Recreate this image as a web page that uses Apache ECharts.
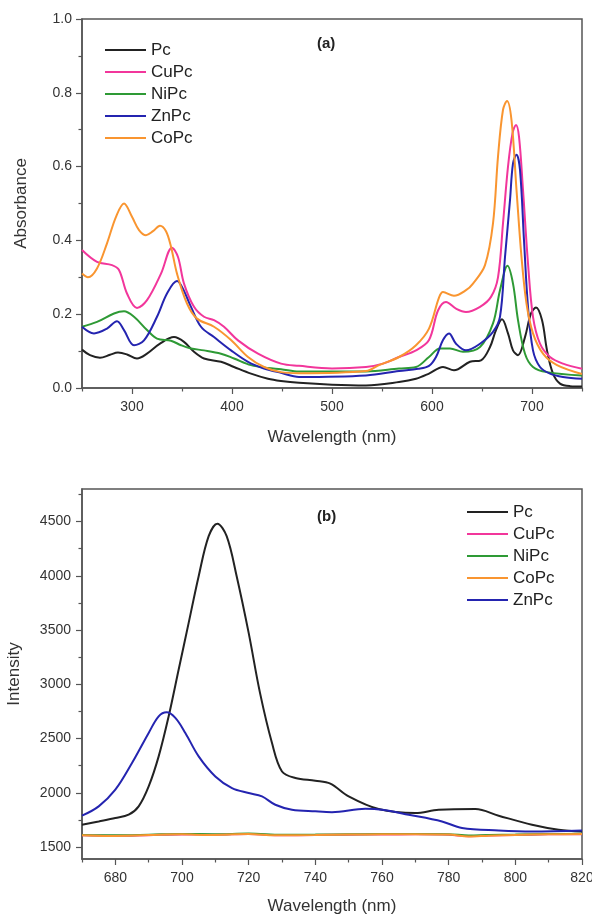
<!DOCTYPE html>
<html>
<head>
<meta charset="utf-8">
<script src="https://cdn.jsdelivr.net/npm/echarts@6/dist/echarts.min.js"></script>
<style>html,body{margin:0;padding:0;background:#fff}#c{width:592px;height:916px}</style>
</head>
<body>
<div id="c"></div>
<script>
// ---------- Panel (a): UV-Vis absorbance ----------
const absNames = ['Pc', 'CuPc', 'NiPc', 'ZnPc', 'CoPc'];
const absPc = [[250,0.104],[258,0.089],[268,0.082],[278,0.090],[286,0.096],[295,0.091],[305,0.080],[315,0.093],[328,0.120],[342,0.138],[352,0.125],[362,0.098],[372,0.080],[389,0.071],[402,0.057],[419,0.039],[436,0.025],[449,0.019],[467,0.014],[500,0.009],[534,0.007],[567,0.016],[584,0.025],[597,0.039],[611,0.057],[622,0.048],[638,0.071],[649,0.075],[658,0.111],[664,0.157],[670,0.186],[676,0.148],[681,0.102],[686,0.089],[693,0.138],[699,0.202],[704,0.218],[710,0.184],[715,0.102],[721,0.039],[728,0.012],[738,0.005],[750,0.004]];
const absCuPc = [[250,0.374],[265,0.342],[280,0.333],[287,0.320],[295,0.256],[305,0.217],[315,0.238],[329,0.310],[340,0.380],[346,0.355],[352,0.283],[362,0.220],[372,0.193],[382,0.184],[392,0.166],[406,0.129],[426,0.093],[449,0.066],[467,0.060],[500,0.053],[534,0.057],[551,0.066],[567,0.084],[584,0.102],[597,0.130],[606,0.210],[614,0.233],[624,0.215],[634,0.206],[648,0.220],[659,0.247],[666,0.300],[671,0.446],[676,0.600],[680.5,0.690],[684,0.713],[687,0.681],[691,0.537],[696,0.338],[701,0.193],[708,0.120],[718,0.084],[731,0.066],[750,0.052]];
const absNiPc = [[250,0.166],[265,0.179],[282,0.202],[292,0.208],[302,0.193],[315,0.157],[325,0.134],[339,0.128],[349,0.116],[359,0.107],[372,0.102],[389,0.093],[402,0.080],[419,0.062],[436,0.054],[449,0.051],[467,0.045],[534,0.045],[567,0.053],[584,0.057],[597,0.084],[608,0.107],[618,0.107],[631,0.098],[648,0.111],[661,0.175],[668,0.265],[675.5,0.331],[681,0.283],[686,0.184],[693,0.093],[701,0.057],[715,0.043],[750,0.034]];
const absZnPc = [[250,0.166],[262,0.148],[275,0.161],[285,0.181],[292,0.157],[302,0.116],[312,0.129],[325,0.193],[335,0.256],[345,0.290],[350,0.274],[359,0.220],[369,0.166],[382,0.138],[399,0.102],[416,0.071],[432,0.053],[449,0.041],[467,0.030],[534,0.034],[567,0.046],[586,0.052],[597,0.060],[604,0.084],[611,0.130],[617,0.148],[624,0.120],[634,0.102],[648,0.120],[661,0.152],[668,0.193],[673,0.355],[678,0.509],[681,0.609],[684.5,0.632],[688,0.591],[692,0.400],[696,0.220],[701,0.102],[708,0.057],[718,0.039],[731,0.030],[750,0.025]];
const absCoPc = [[250,0.310],[256,0.300],[265,0.324],[275,0.392],[284,0.464],[292,0.500],[300,0.464],[307,0.428],[314,0.414],[321,0.425],[328,0.440],[334,0.425],[339,0.383],[345,0.310],[355,0.229],[365,0.188],[382,0.166],[399,0.130],[416,0.084],[432,0.057],[449,0.043],[467,0.040],[534,0.046],[547,0.062],[567,0.084],[584,0.116],[597,0.161],[607,0.245],[611,0.260],[622,0.250],[634,0.265],[641,0.283],[653,0.333],[661,0.446],[666,0.627],[671,0.754],[675,0.778],[679.5,0.726],[684.5,0.537],[689.5,0.355],[694.5,0.229],[701,0.148],[711,0.093],[725,0.062],[750,0.038]];
const absXLabels = [300, 400, 500, 600, 700];
const absXMinor = [250, 350, 450, 550, 650, 750];

// ---------- Panel (b): emission intensity ----------
const emNames = ['Pc', 'CuPc', 'NiPc', 'CoPc', 'ZnPc'];
const emPc = [[670,1706],[675,1736],[680,1767],[684,1798],[687,1875],[690,2059],[693,2336],[696,2705],[699,3136],[702,3566],[705,3996],[708,4365],[710.6,4480],[713.4,4365],[716.4,3996],[720,3474],[723.4,2921],[727,2459],[730,2197],[734,2137],[740,2112],[744.5,2085],[750,1967],[759,1850],[770,1813],[777,1844],[788,1850],[795,1789],[805,1706],[813,1660],[820,1644]];
const emCuPc = [[670,1608],[680,1604],[690,1610],[700,1616],[710,1614],[720,1620],[730,1609],[740,1611],[750,1614],[760,1616],[770,1617],[780,1614],[786,1600],[792,1606],[800,1611],[810,1617],[820,1619]];
const emNiPc = [[670,1612],[680,1609],[690,1614],[700,1621],[710,1618],[720,1624],[730,1613],[740,1615],[750,1618],[760,1620],[770,1621],[780,1619],[786,1606],[792,1611],[800,1615],[810,1620],[820,1622]];
const emCoPc = [[670,1610],[678,1603],[690,1611],[700,1617],[708,1612],[720,1621],[728,1608],[740,1611],[750,1615],[760,1617],[770,1618],[780,1615],[786,1598],[792,1605],[800,1612],[810,1618],[820,1620]];
const emZnPc = [[670,1789],[675,1875],[680,2029],[685,2275],[690,2552],[693,2705],[695.4,2742],[698,2690],[701,2552],[705,2336],[710,2151],[715,2044],[720,1998],[724,1967],[728,1890],[733,1844],[740,1829],[745,1822],[755,1853],[760,1844],[768,1798],[778,1736],[784,1675],[795,1653],[805,1644],[820,1653]];
const emXLabels = [680, 700, 720, 740, 760, 780, 800, 820];
const emXMinor = [670, 690, 710, 730, 750, 770, 790, 810];
const emYLabels = [1500, 2000, 2500, 3000, 3500, 4000, 4500];
const emYMinor = [1750, 2250, 2750, 3250, 3750, 4250, 4750];

const colors = {Pc:'#222222', CuPc:'#f2369b', NiPc:'#2e9a35', ZnPc:'#2424b0', CoPc:'#f99530'};
const axisColor = '#555555';
const FONT = 'Liberation Sans, Arial, sans-serif';
const labelStyle = {color:'#333', fontSize:14, fontFamily:FONT};
const nameStyle = {color:'#333', fontSize:17, fontFamily:FONT};

function mainX(grid, min, max, labels, name, gap) {
  return {type:'value', gridIndex:grid, min:min, max:max, position:'bottom',
    name:name, nameLocation:'middle', nameGap:gap, nameTextStyle:nameStyle,
    axisLine:{show:true, lineStyle:{color:axisColor, width:1.5}},
    axisTick:{show:true, length:6, customValues:labels, lineStyle:{color:axisColor, width:1.2}},
    axisLabel:{show:true, customValues:labels, margin:12, formatter:v => String(v), ...labelStyle},
    splitLine:{show:false}};
}
function minorX(grid, min, max, ticks) {
  return {type:'value', gridIndex:grid, min:min, max:max, position:'bottom',
    axisLine:{show:false},
    axisTick:{show:true, length:3.5, customValues:ticks, lineStyle:{color:axisColor, width:1.2}},
    axisLabel:{show:false}, splitLine:{show:false}};
}

const series = [];
const absData = {Pc:absPc, CuPc:absCuPc, NiPc:absNiPc, ZnPc:absZnPc, CoPc:absCoPc};
absNames.forEach(n => series.push({name:n, type:'line', xAxisIndex:0, yAxisIndex:0, data:absData[n],
  smooth:0.35, symbol:'none', lineStyle:{color:colors[n], width:2}, itemStyle:{color:colors[n]}}));
const emData = {Pc:emPc, CuPc:emCuPc, NiPc:emNiPc, CoPc:emCoPc, ZnPc:emZnPc};
emNames.forEach(n => series.push({name:n + ' ', type:'line', xAxisIndex:2, yAxisIndex:1, data:emData[n],
  smooth:0.35, symbol:'none', lineStyle:{color:colors[n], width:2}, itemStyle:{color:colors[n]}}));

const legendText = {fontSize:17, lineHeight:18, color:'#222', fontFamily:FONT};
const chart = echarts.init(document.getElementById('c'), null, {renderer:'canvas'});
chart.setOption({
  backgroundColor:'#fff',
  animation:false,
  title:[
    {text:'(a)', left:312, top:31, textStyle:{fontSize:15, fontWeight:'bold', color:'#222', fontFamily:FONT}},
    {text:'(b)', left:312, top:504, textStyle:{fontSize:15, fontWeight:'bold', color:'#222', fontFamily:FONT}}
  ],
  legend:[
    {orient:'vertical', left:99, top:36, itemWidth:41, itemHeight:2, itemGap:4, data:absNames,
      textStyle:legendText},
    {orient:'vertical', left:461, top:498, itemWidth:41, itemHeight:2, itemGap:4, data:emNames.map(n => n + ' '),
      formatter: s => s.trim(), textStyle:legendText}
  ],
  grid:[
    {left:82, top:19, width:500, height:369, show:true, borderColor:axisColor, borderWidth:1.5,
      backgroundColor:'transparent', outerBoundsMode:'none', containLabel:false},
    {left:82, top:489, width:500, height:370, show:true, borderColor:axisColor, borderWidth:1.5,
      backgroundColor:'transparent', outerBoundsMode:'none', containLabel:false}
  ],
  xAxis:[
    mainX(0, 250, 750, absXLabels, 'Wavelength (nm)', 41),
    minorX(0, 250, 750, absXMinor),
    mainX(1, 670, 820, emXLabels, 'Wavelength (nm)', 39),
    minorX(1, 670, 820, emXMinor)
  ],
  yAxis:[
    {type:'value', gridIndex:0, min:0, max:1, interval:0.2, position:'left',
      name:'Absorbance', nameLocation:'middle', nameGap:52, nameTextStyle:nameStyle,
      axisLine:{show:true, lineStyle:{color:axisColor, width:1.5}},
      axisTick:{show:true, length:6, lineStyle:{color:axisColor, width:1.2}},
      minorTick:{show:true, splitNumber:2, length:3.5, lineStyle:{color:axisColor, width:1.2}},
      axisLabel:{formatter:v => v.toFixed(1), margin:10, ...labelStyle},
      splitLine:{show:false}, minorSplitLine:{show:false}},
    {type:'value', gridIndex:1, min:1390, max:4800, position:'left',
      name:'Intensity', nameLocation:'middle', nameGap:59, nameTextStyle:nameStyle,
      axisLine:{show:true, lineStyle:{color:axisColor, width:1.5}},
      axisTick:{show:true, length:6, customValues:emYLabels, lineStyle:{color:axisColor, width:1.2}},
      axisLabel:{customValues:emYLabels, margin:11, formatter:v => String(v), ...labelStyle},
      splitLine:{show:false}},
    {type:'value', gridIndex:1, min:1390, max:4800, position:'left',
      axisLine:{show:false},
      axisTick:{show:true, length:3.5, customValues:emYMinor, lineStyle:{color:axisColor, width:1.2}},
      axisLabel:{show:false}, splitLine:{show:false}}
  ],
  series:series
});
</script>
</body>
</html>
